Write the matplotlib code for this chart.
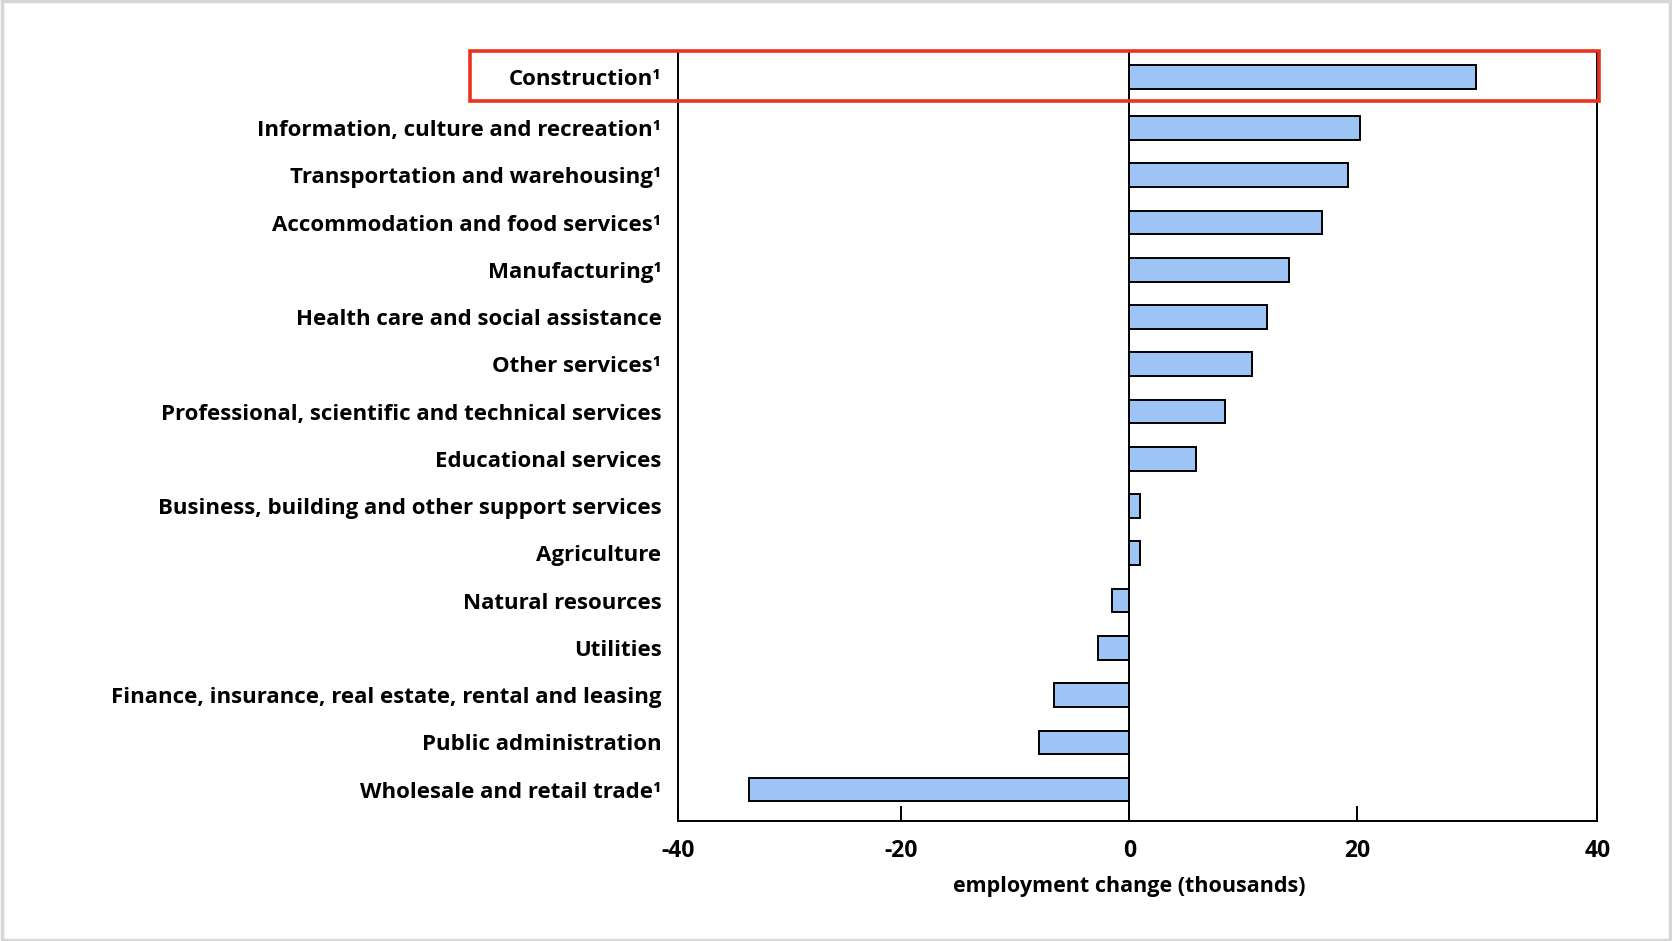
import matplotlib
matplotlib.use("Agg")
import matplotlib.pyplot as plt
from matplotlib.patches import Rectangle

categories = [
    "Construction¹",
    "Information, culture and recreation¹",
    "Transportation and warehousing¹",
    "Accommodation and food services¹",
    "Manufacturing¹",
    "Health care and social assistance",
    "Other services¹",
    "Professional, scientific and technical services",
    "Educational services",
    "Business, building and other support services",
    "Agriculture",
    "Natural resources",
    "Utilities",
    "Finance, insurance, real estate, rental and leasing",
    "Public administration",
    "Wholesale and retail trade¹",
]
values = [30.4, 20.3, 19.2, 16.9, 14.0, 12.1, 10.8, 8.4, 5.9, 0.9, 0.9,
          -1.5, -2.7, -6.6, -7.9, -33.4]
tick_values = [-20, 0, 20]
tick_labels = ["-40", "-20", "0", "20", "40"]

plt.rcParams['font.family'] = ['Open Sans', 'DejaVu Sans']

fig = plt.figure(figsize=(16.72, 9.41), dpi=100)
fig.patch.set_facecolor("white")

ax = fig.add_axes([0.4056, 0.128, 0.9554 - 0.4056, 0.9456 - 0.128])

xmin, xmax = -39.6, 41.1
ys = [i if i > 0 else -0.08 for i in range(len(categories))]
ax.barh(ys, values, height=0.5, color="#9ec4f6", edgecolor="black",
        linewidth=1.4, zorder=2)
ax.axvline(0, color="black", linewidth=1.4, zorder=3)

ax.set_xlim(xmin, xmax)
ax.set_ylim(15.655, -0.625)

ax.set_xticks([xmin] + tick_values + [xmax])
ax.set_xticklabels(tick_labels, fontsize=16.5, fontweight="bold")
ax.tick_params(axis="x", direction="in", length=11, width=1.4, pad=13)
ax.set_yticks(ys)
ax.set_yticklabels(categories, fontsize=16.0, fontweight="bold")
ax.tick_params(axis="y", length=0, pad=12)

for s in ["left", "right", "bottom"]:
    ax.spines[s].set_linewidth(1.4)
ax.spines["top"].set_visible(False)

ax.set_xlabel("employment change (thousands)", fontsize=15.5, fontweight="bold")
ax.xaxis.set_label_coords((0 - xmin) / (xmax - xmin), -0.072)

# highlight box around the first category
fig.patches.append(Rectangle((0.2813, 0.8923), 0.9566 - 0.2813, 0.9456 - 0.8923,
                             transform=fig.transFigure, fill=False,
                             edgecolor="#e8321e", linewidth=2.6, zorder=10))
# light outer frame
fig.patches.append(Rectangle((0.001, 0.001), 0.998, 0.998,
                             transform=fig.transFigure, fill=False,
                             edgecolor="#d6d6d6", linewidth=2.5, zorder=10))

fig.savefig("out.png", dpi=100, facecolor="white")
